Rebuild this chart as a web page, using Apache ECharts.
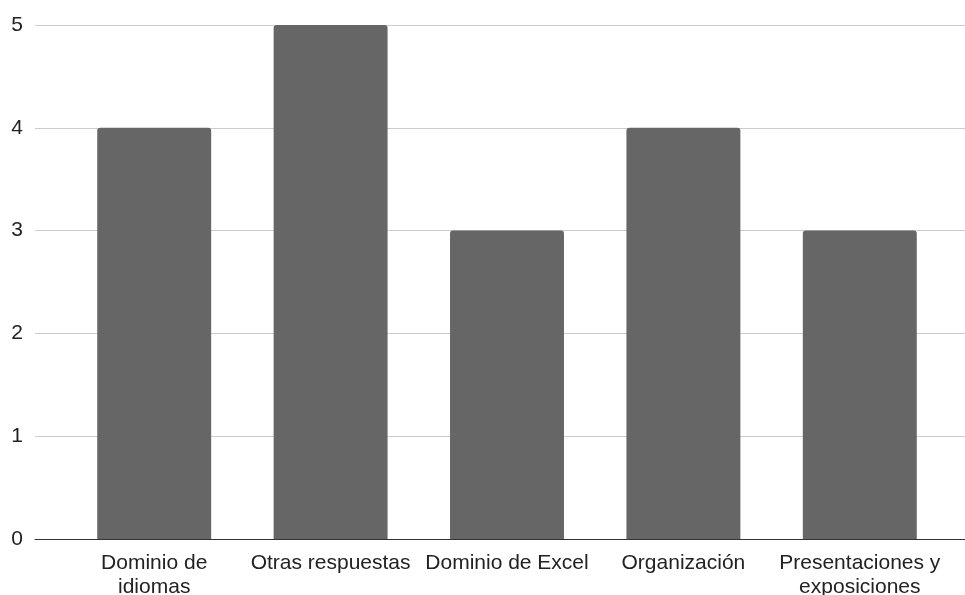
<!DOCTYPE html>
<html>
<head>
<meta charset="utf-8">
<script src="https://cdn.jsdelivr.net/npm/echarts@6/dist/echarts.min.js"></script>
<style>
  html, body { margin: 0; padding: 0; background: #fff; }
  #chart { width: 965px; height: 595px; }
</style>
</head>
<body>
<div id="chart"></div>
<script>
// Skill categories and their counts
const categories = [
  'Dominio de\nidiomas',
  'Otras respuestas',
  'Dominio de Excel',
  'Organización',
  'Presentaciones y\nexposiciones'
];
const counts = [4, 5, 3, 4, 3];
const yTicks = [0, 1, 2, 3, 4, 5];

const FONT = '"Liberation Sans", Arial, sans-serif';
const yMin = yTicks[0];
const yMax = yTicks[yTicks.length - 1];

const chart = echarts.init(document.getElementById('chart'), null, { renderer: 'canvas' });

chart.setOption({
  animation: false,
  backgroundColor: '#ffffff',
  textStyle: { fontFamily: FONT },
  grid: [
    // full-width frame: gridlines, y labels, baseline
    { left: 35, right: 0, top: 25, bottom: 56, outerBoundsMode: 'none', containLabel: false },
    // inset area holding the bars
    { left: 66, right: 17, top: 25, bottom: 56, outerBoundsMode: 'none', containLabel: false }
  ],
  xAxis: [
    {
      type: 'value', gridIndex: 0, min: 0, max: 1,
      axisLine: { show: true, onZero: false, lineStyle: { color: '#333333', width: 1 } },
      axisTick: { show: false }, axisLabel: { show: false }, splitLine: { show: false }
    },
    {
      type: 'category', gridIndex: 1, data: categories,
      axisLine: { show: false }, axisTick: { show: false },
      axisLabel: {
        color: '#222222', fontSize: 21, fontFamily: FONT,
        lineHeight: 24, margin: 12, interval: 0
      }
    }
  ],
  yAxis: [
    {
      type: 'value', gridIndex: 0, min: yMin, max: yMax, interval: 1,
      axisLine: { show: false }, axisTick: { show: false },
      axisLabel: { color: '#222222', fontSize: 21, fontFamily: FONT, margin: 12 },
      splitLine: { lineStyle: { color: '#cccccc', width: 1 } }
    },
    {
      type: 'value', gridIndex: 1, min: yMin, max: yMax, interval: 1,
      axisLine: { show: false }, axisTick: { show: false },
      axisLabel: { show: false }, splitLine: { show: false }
    }
  ],
  series: [
    {
      type: 'bar',
      xAxisIndex: 1, yAxisIndex: 1,
      data: counts,
      barWidth: '64.6%',
      itemStyle: { color: '#666666', borderRadius: [3, 3, 0, 0] }
    }
  ]
});
</script>
</body>
</html>
